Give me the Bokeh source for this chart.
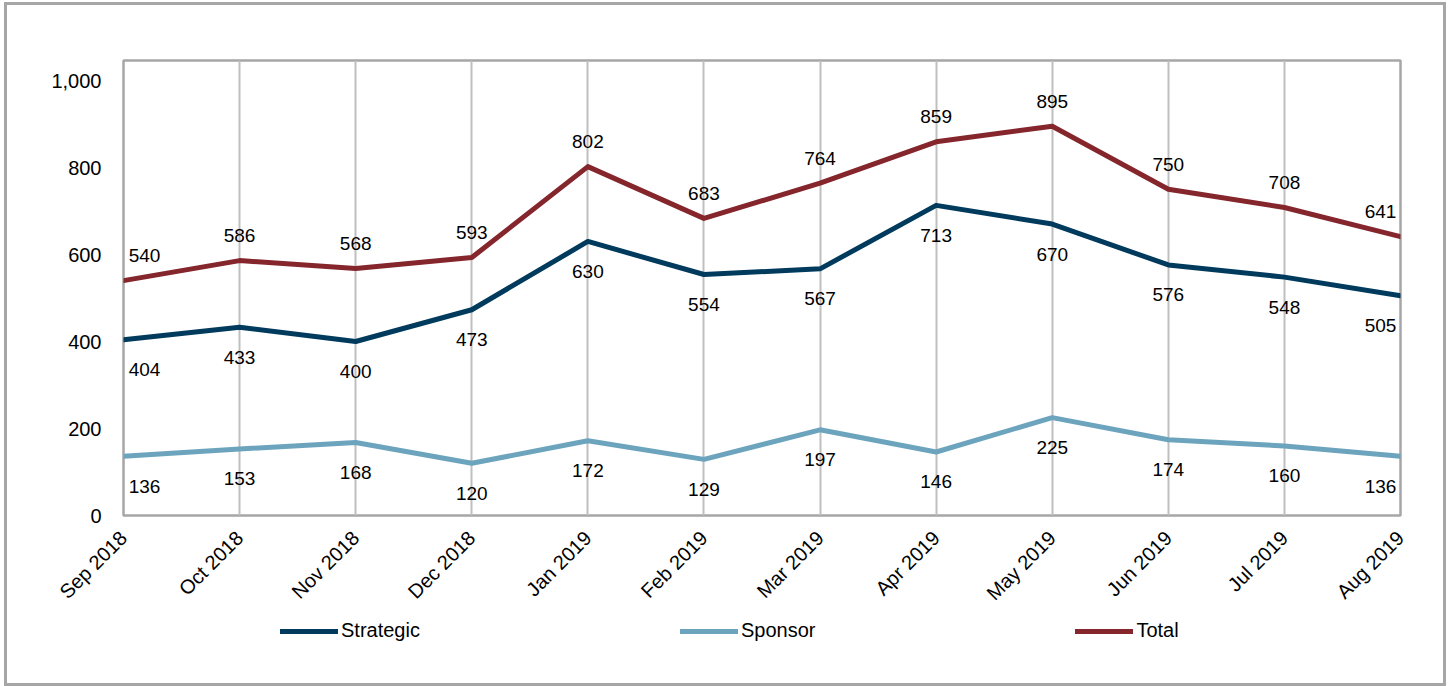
from bokeh.plotting import figure
from bokeh.models import (ColumnDataSource, Range1d, FixedTicker, NumeralTickFormatter,
                          Legend, LegendItem)
from bokeh.layouts import column
from bokeh.core.properties import value
from bokeh.embed import file_html
from bokeh.resources import INLINE
import math

months = ["Sep 2018", "Oct 2018", "Nov 2018", "Dec 2018", "Jan 2019", "Feb 2019",
          "Mar 2019", "Apr 2019", "May 2019", "Jun 2019", "Jul 2019", "Aug 2019"]
strategic = [404, 433, 400, 473, 630, 554, 567, 713, 670, 576, 548, 505]
sponsor = [136, 153, 168, 120, 172, 129, 197, 146, 225, 174, 160, 136]
total = [540, 586, 568, 593, 802, 683, 764, 859, 895, 750, 708, 641]
y_ticks = [0, 200, 400, 600, 800, 1000]

FONT = "Liberation Sans"
C_STRAT = "#003A5D"
C_SPON = "#6CA4BE"
C_TOT = "#84262B"

n = len(months)
xs = list(range(n))

p = figure(width=1436, height=610, output_backend="svg", toolbar_location=None,
           x_range=Range1d(0, n - 1), y_range=Range1d(0, 1046),
           min_border_left=116, min_border_right=43, min_border_top=55,
           min_border_bottom=100)

p.outline_line_color = "#A6A6A6"
p.outline_line_width = 2.5

# axes
p.xaxis.ticker = FixedTicker(ticks=xs)
p.xaxis.major_label_overrides = {i: m for i, m in enumerate(months)}
p.xaxis.major_label_orientation = math.pi / 4
p.xaxis.major_label_text_font = FONT
p.xaxis.major_label_text_font_size = "20px"
p.xaxis.major_label_text_color = "#000000"
p.xaxis.major_label_standoff = 13
p.xaxis.axis_line_color = None
p.xaxis.major_tick_line_color = None
p.xaxis.minor_tick_line_color = None

p.yaxis.ticker = FixedTicker(ticks=y_ticks)
p.yaxis.formatter = NumeralTickFormatter(format="0,0")
p.yaxis.major_label_text_font = FONT
p.yaxis.major_label_text_font_size = "20px"
p.yaxis.major_label_text_color = "#000000"
p.yaxis.major_label_standoff = 16
p.yaxis.axis_line_color = None
p.yaxis.major_tick_line_color = None
p.yaxis.minor_tick_line_color = None

p.xgrid.grid_line_color = "#BFBFBF"
p.xgrid.grid_line_width = 2
p.ygrid.grid_line_color = None

# legend strip (separate figure so the legend is not clipped)
pl = figure(width=1436, height=68, output_backend="svg", toolbar_location=None,
            x_range=Range1d(0, 1), y_range=Range1d(0, 1),
            min_border_left=0, min_border_right=0, min_border_top=0,
            min_border_bottom=0)
pl.axis.visible = False
pl.grid.visible = False
pl.outline_line_color = None

series = [("Strategic", strategic, C_STRAT, 30),
          ("Sponsor", sponsor, C_SPON, 30),
          ("Total", total, C_TOT, -25)]

items = []
for name, vals, color, yoff in series:
    x_off = [21 if i == 0 else (-20 if i == n - 1 else 0) for i in xs]
    src = ColumnDataSource(dict(x=xs, y=vals, lbl=[str(v) for v in vals],
                                xo=x_off))
    p.line("x", "y", source=src, line_color=color, line_width=5,
           line_join="round", line_cap="round")
    p.text("x", "y", text="lbl", source=src, x_offset="xo", y_offset=yoff,
           text_font=value(FONT), text_font_size="19px", text_color="#000000",
           text_align="center", text_baseline="middle")
    # legend proxy renderer with the same style, placed outside the strip's view
    r = pl.line(x=[5, 6], y=[5, 6], line_color=color, line_width=5,
                line_join="round", line_cap="round")
    items.append(LegendItem(label=name, renderers=[r]))

legend = Legend(items=items, orientation="horizontal", location=(157, 41),
                glyph_width=58, glyph_height=20, label_height=20,
                label_standoff=3, spacing=260, padding=0, margin=0,
                border_line_color=None, background_fill_alpha=0,
                label_text_font=FONT, label_text_font_size="20px",
                label_text_color="#000000")
pl.add_layout(legend)

layout = column(p, pl, spacing=0,
                styles={"border": "3px solid #A6A6A6", "margin-left": "4px",
                        "margin-top": "2px"})

open("out.html", "w").write(file_html(layout, INLINE))
